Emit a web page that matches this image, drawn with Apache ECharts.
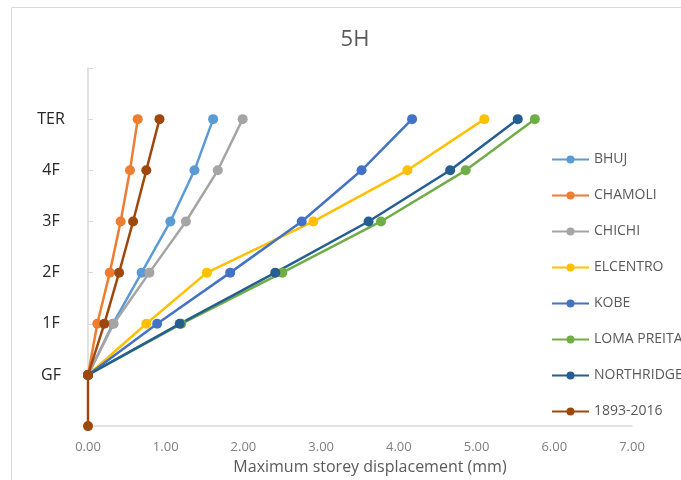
<!DOCTYPE html>
<html>
<head>
<meta charset="utf-8">
<script src="https://cdn.jsdelivr.net/npm/echarts@6/dist/echarts.min.js"></script>
<style>
    html, body { margin: 0; padding: 0; background: #fff; }
    #container { width: 681px; height: 480px; }
</style>
</head>
<body>
<div id="container"></div>
<script>
    // storey labels on the vertical axis (value 0..7)
    var storeyLabels = ['', 'GF', '1F', '2F', '3F', '4F', 'TER', ''];
    var storeyLevels = [1, 2, 3, 4, 5, 6];

    // maximum storey displacement (mm), GF -> TER
    var bhuj       = [0, 0.32, 0.69, 1.06, 1.37, 1.61];
    var chamoli    = [0, 0.12, 0.28, 0.42, 0.54, 0.64];
    var chichi     = [0, 0.33, 0.79, 1.26, 1.67, 1.99];
    var elcentro   = [0, 0.75, 1.53, 2.90, 4.11, 5.10];
    var kobe       = [0, 0.89, 1.83, 2.75, 3.52, 4.17];
    var lomaPreita = [0, 1.20, 2.50, 3.77, 4.86, 5.75];
    var northridge = [0, 1.18, 2.41, 3.61, 4.66, 5.53];
    // this one also has a point at the base level (0)
    var hist1893Levels = [0, 1, 2, 3, 4, 5, 6];
    var hist1893       = [0, 0, 0.21, 0.40, 0.58, 0.75, 0.92];

    var seriesNames  = ['BHUJ', 'CHAMOLI', 'CHICHI', 'ELCENTRO', 'KOBE', 'LOMA PREITA', 'NORTHRIDGE', '1893-2016'];
    var seriesColors = ['#5B9BD5', '#ED7D31', '#A5A5A5', '#FFC000', '#4472C4', '#70AD47', '#255E91', '#9E480E'];
    var seriesValues = [bhuj, chamoli, chichi, elcentro, kobe, lomaPreita, northridge, hist1893];

    function pairs(xs, ys) {
        var out = [];
        for (var i = 0; i < xs.length; i++) out.push([xs[i], ys[i]]);
        return out;
    }

    var series = [];
    for (var i = 0; i < seriesNames.length; i++) {
        var levels = (i === 7) ? hist1893Levels : storeyLevels;
        series.push({
            name: seriesNames[i],
            type: 'line',
            data: pairs(seriesValues[i], levels),
            symbol: 'circle',
            symbolSize: 10,
            showSymbol: true,
            lineStyle: { width: 2.5, color: seriesColors[i] },
            itemStyle: { color: seriesColors[i] },
            animation: false
        });
    }

    var myChart = echarts.init(document.getElementById('container'));
    var option = {
        title: {
            text: '5H',
            left: 350,
            top: 24,
            textAlign: 'center',
            textStyle: { fontFamily: 'Open Sans', fontSize: 22, fontWeight: 'normal', color: '#595959' }
        },
        legend: {
            orient: 'vertical',
            left: 546,
            top: 145,
            itemGap: 17,
            itemWidth: 37,
            itemHeight: 10,
            data: seriesNames,
            textStyle: { fontFamily: 'Open Sans', fontSize: 14, lineHeight: 19, color: '#595959' }
        },
        graphic: [{
            type: 'rect',
            shape: { x: 11.5, y: 7.5, width: 720, height: 520 },
            style: { fill: 'none', stroke: '#d9d9d9', lineWidth: 1 },
            silent: true
        }],
        grid: { left: 88, right: 49, top: 68, bottom: 52 },
        xAxis: {
            type: 'value',
            min: 0,
            max: 7,
            interval: 1,
            name: 'Maximum storey displacement (mm)',
            nameLocation: 'middle',
            nameGap: 28,
            nameTextStyle: { fontFamily: 'Open Sans', fontSize: 16, color: '#595959', padding: [0, 0, 0, 20] },
            axisLine: { lineStyle: { color: '#d9d9d9', width: 1.5 } },
            axisTick: { show: false },
            splitLine: { show: false },
            axisLabel: {
                margin: 15,
                fontFamily: 'Open Sans', fontSize: 13, color: '#7f7f7f',
                formatter: function (v) { return v.toFixed(2); }
            }
        },
        yAxis: {
            type: 'value',
            min: 0,
            max: 7,
            interval: 1,
            axisLine: { show: true, lineStyle: { color: '#d9d9d9', width: 1.5 } },
            axisTick: { show: true, inside: true, length: 5, lineStyle: { color: '#d9d9d9' } },
            splitLine: { show: false },
            axisLabel: {
                margin: 37,
                align: 'center',
                fontFamily: 'Open Sans', fontSize: 16, color: '#262626',
                formatter: function (v) { return storeyLabels[v] || ''; }
            }
        },
        series: series
    };
    myChart.setOption(option);
</script>
</body>
</html>
